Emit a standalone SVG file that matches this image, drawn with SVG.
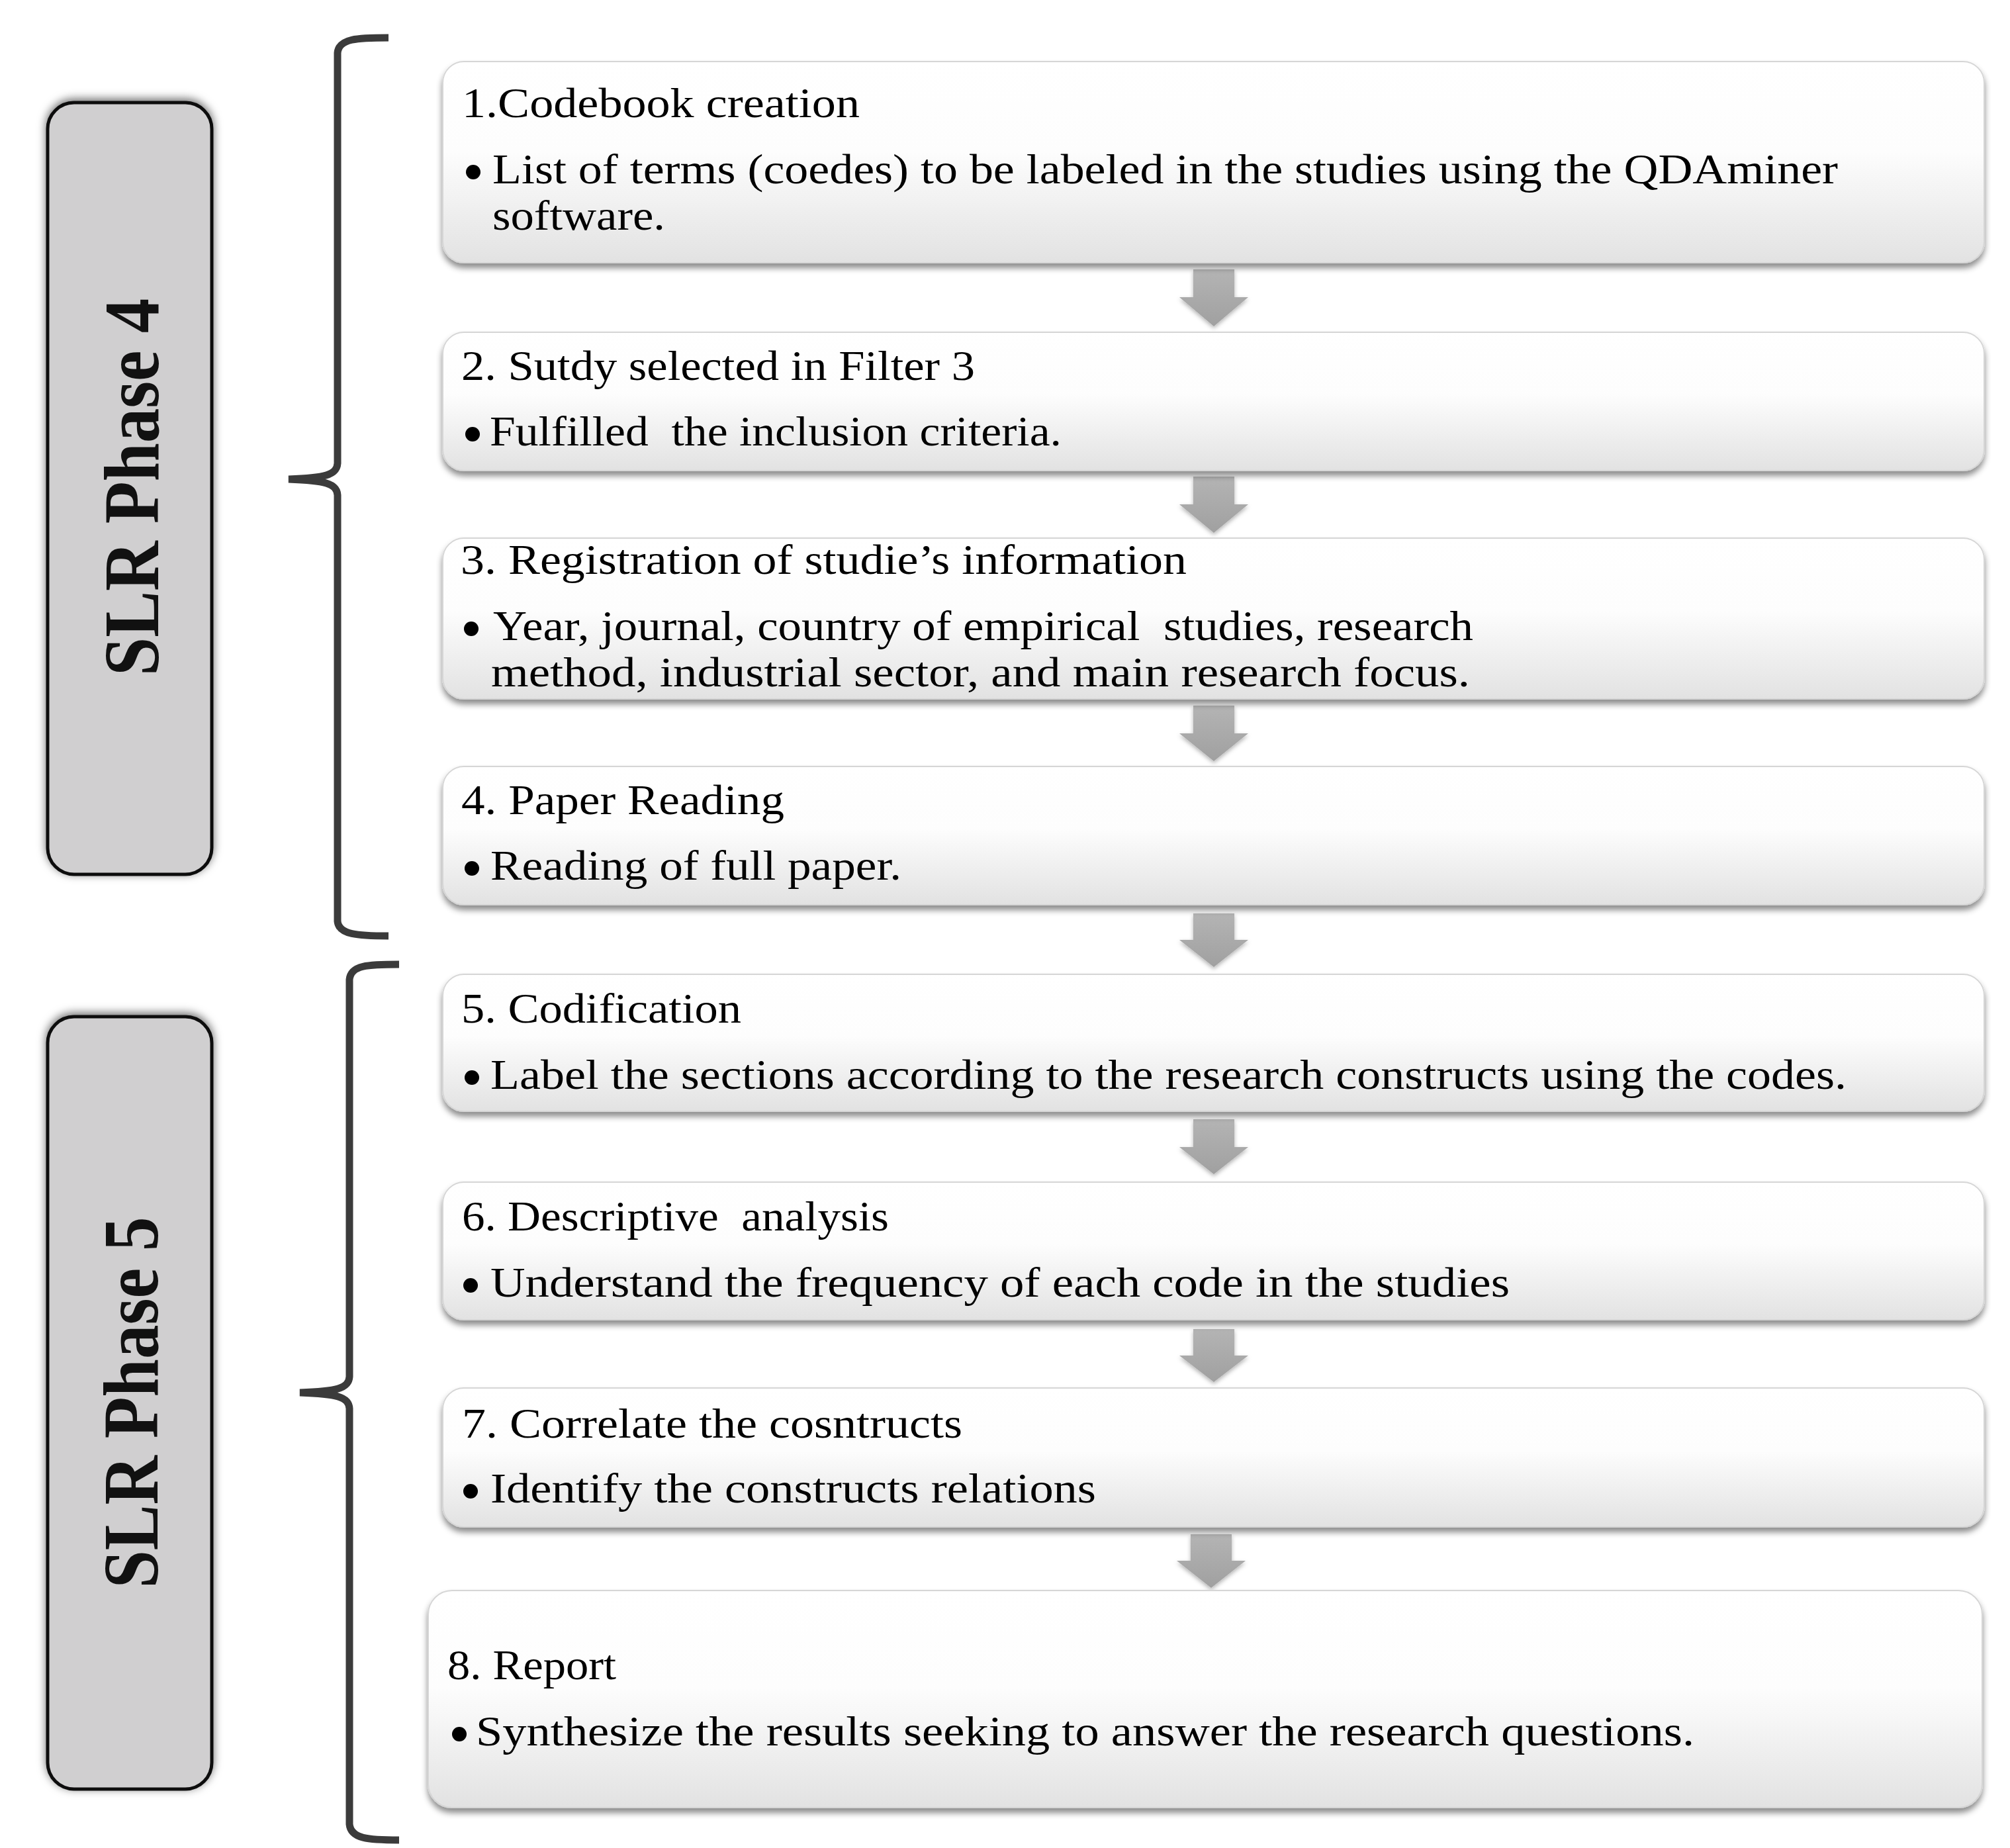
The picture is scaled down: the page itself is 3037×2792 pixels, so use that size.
<svg xmlns="http://www.w3.org/2000/svg" width="3037" height="2792" viewBox="0 0 3037 2792">
<defs>
<linearGradient id="ng" x1="0" y1="0" x2="0" y2="1">
<stop offset="0" stop-color="#ffffff"/>
<stop offset="0.45" stop-color="#fdfdfd"/>
<stop offset="1" stop-color="#e2e2e2"/>
</linearGradient>
<linearGradient id="ag" x1="0" y1="0" x2="0" y2="1">
<stop offset="0" stop-color="#b4b4b4"/>
<stop offset="1" stop-color="#a0a0a0"/>
</linearGradient>
<filter id="sh" x="-5%" y="-20%" width="110%" height="150%">
<feDropShadow dx="0" dy="7" stdDeviation="5" flood-color="#000" flood-opacity="0.45"/>
</filter>
<filter id="ash" x="-30%" y="-30%" width="160%" height="160%">
<feDropShadow dx="0" dy="3" stdDeviation="3" flood-color="#000" flood-opacity="0.3"/>
</filter>
<filter id="psh" x="-20%" y="-10%" width="140%" height="120%">
<feDropShadow dx="0" dy="-3" stdDeviation="7" flood-color="#000" flood-opacity="0.6"/>
</filter>
<style>
.box{fill:url(#ng);stroke:#d6d6d6;stroke-width:2;filter:url(#sh)}
.ph{fill:#d0cfd0;stroke:#111;stroke-width:5;filter:url(#psh)}
.pt{font-family:"Liberation Serif",serif;font-weight:bold;font-size:118px;fill:#111}
.t{font-family:"Liberation Serif",serif;font-size:64px;fill:#000}
.dot{fill:#000}
.brace{fill:none;stroke:#3b3b3b;stroke-width:11;stroke-linecap:butt}
.arrow{fill:url(#ag);filter:url(#ash)}
</style>
</defs>
<rect width="3037" height="2792" fill="#fff"/>

<g id="phase4">
<rect class="ph" x="72" y="155" width="248" height="1166" rx="40"/>
<text class="pt" transform="translate(239,736) rotate(-90)" text-anchor="middle" textLength="570" lengthAdjust="spacingAndGlyphs">SLR Phase 4</text>
</g>
<g id="phase5">
<rect class="ph" x="72" y="1536" width="248" height="1167" rx="40"/>
<text class="pt" transform="translate(238,2119) rotate(-90)" text-anchor="middle" textLength="561" lengthAdjust="spacingAndGlyphs">SLR Phase 5</text>
</g>

<g id="braces">
<path class="brace" d="M 587 57 C 540 57 512 58 510 80 L 510 700 C 509 718 490 722 436 724 C 490 726 509 730 510 748 L 510 1392 C 512 1412 540 1414 587 1414"/>
<path class="brace" d="M 603 1457 C 556 1457 530 1458 528 1480 L 528 2080 C 527 2098 508 2102 453 2104 C 508 2106 527 2110 528 2128 L 528 2756 C 530 2778 556 2780 603 2780"/>
</g>

<g id="connectors">
<path class="arrow" d="M 1803 407 H 1865 V 449 H 1886 L 1834 493 L 1782 449 H 1803 Z"/>
<path class="arrow" d="M 1803 720 H 1865 V 762 H 1886 L 1834 805 L 1782 762 H 1803 Z"/>
<path class="arrow" d="M 1803 1066 H 1865 V 1108 H 1886 L 1834 1150 L 1782 1108 H 1803 Z"/>
<path class="arrow" d="M 1803 1380 H 1865 V 1420 H 1886 L 1834 1461 L 1782 1420 H 1803 Z"/>
<path class="arrow" d="M 1803 1691 H 1865 V 1733 H 1886 L 1834 1774 L 1782 1733 H 1803 Z"/>
<path class="arrow" d="M 1803 2008 H 1865 V 2048 H 1886 L 1834 2088 L 1782 2048 H 1803 Z"/>
<path class="arrow" d="M 1799 2318 H 1861 V 2358 H 1882 L 1830 2399 L 1778 2358 H 1799 Z"/>
</g>

<g id="node1">
<rect class="box" x="669" y="93" width="2329" height="304" rx="32"/>
<text class="t" x="698" y="177" textLength="601" lengthAdjust="spacingAndGlyphs">1.Codebook creation</text>
<circle class="dot" cx="715" cy="260" r="11"/>
<text class="t" x="744" y="277" textLength="2033" lengthAdjust="spacingAndGlyphs">List of terms (coedes) to be labeled in the studies using the QDAminer</text>
<text class="t" x="744" y="347" textLength="261" lengthAdjust="spacingAndGlyphs">software.</text>
</g>

<g id="node2">
<rect class="box" x="669" y="502" width="2329" height="209" rx="32"/>
<text class="t" x="697" y="574" textLength="776" lengthAdjust="spacingAndGlyphs">2. Sutdy selected in Filter 3</text>
<circle class="dot" cx="714" cy="656" r="11"/>
<text class="t" x="740" y="673" textLength="864" lengthAdjust="spacingAndGlyphs" xml:space="preserve">Fulfilled  the inclusion criteria.</text>
</g>

<g id="node3">
<rect class="box" x="669" y="813" width="2329" height="243" rx="32"/>
<text class="t" x="696" y="867" textLength="1097" lengthAdjust="spacingAndGlyphs">3. Registration of studie’s information</text>
<circle class="dot" cx="712" cy="950" r="11"/>
<text class="t" x="745" y="967" textLength="1481" lengthAdjust="spacingAndGlyphs" xml:space="preserve">Year, journal, country of empirical  studies, research</text>
<text class="t" x="742" y="1037" textLength="1479" lengthAdjust="spacingAndGlyphs">method, industrial sector, and main research focus.</text>
</g>

<g id="node4">
<rect class="box" x="669" y="1158" width="2329" height="209" rx="32"/>
<text class="t" x="697" y="1230" textLength="488" lengthAdjust="spacingAndGlyphs">4. Paper Reading</text>
<circle class="dot" cx="713" cy="1312" r="11"/>
<text class="t" x="741" y="1329" textLength="621" lengthAdjust="spacingAndGlyphs">Reading of full paper.</text>
</g>

<g id="node5">
<rect class="box" x="669" y="1472" width="2329" height="207" rx="32"/>
<text class="t" x="697" y="1545" textLength="423" lengthAdjust="spacingAndGlyphs">5. Codification</text>
<circle class="dot" cx="713" cy="1628" r="11"/>
<text class="t" x="741" y="1645" textLength="2049" lengthAdjust="spacingAndGlyphs">Label the sections according to the research constructs using the codes.</text>
</g>

<g id="node6">
<rect class="box" x="669" y="1786" width="2329" height="208" rx="32"/>
<text class="t" x="698" y="1859" textLength="645" lengthAdjust="spacingAndGlyphs" xml:space="preserve">6. Descriptive  analysis</text>
<circle class="dot" cx="711" cy="1942" r="11"/>
<text class="t" x="741" y="1959" textLength="1540" lengthAdjust="spacingAndGlyphs">Understand the frequency of each code in the studies</text>
</g>

<g id="node7">
<rect class="box" x="669" y="2097" width="2329" height="210" rx="32"/>
<text class="t" x="698" y="2172" textLength="756" lengthAdjust="spacingAndGlyphs">7. Correlate the cosntructs</text>
<circle class="dot" cx="711" cy="2253" r="11"/>
<text class="t" x="741" y="2270" textLength="915" lengthAdjust="spacingAndGlyphs">Identify the constructs relations</text>
</g>

<g id="node8">
<rect class="box" x="647" y="2403" width="2348" height="328" rx="36"/>
<text class="t" x="676" y="2537" textLength="255" lengthAdjust="spacingAndGlyphs">8. Report</text>
<circle class="dot" cx="694" cy="2620" r="11"/>
<text class="t" x="719" y="2637" textLength="1841" lengthAdjust="spacingAndGlyphs">Synthesize the results seeking to answer the research questions.</text>
</g>
</svg>
